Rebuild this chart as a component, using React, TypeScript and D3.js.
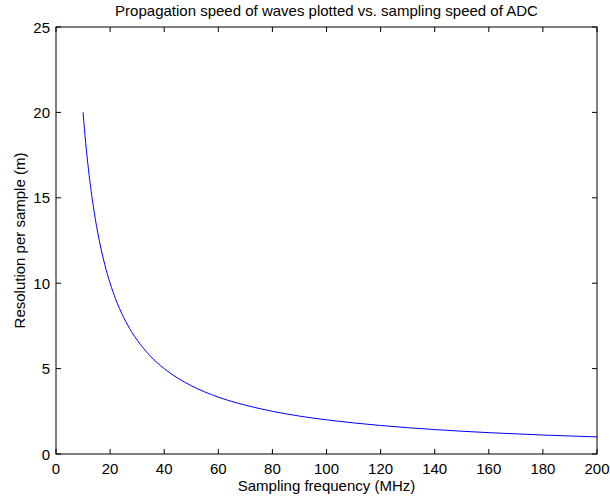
import React from "react";
import * as d3 from "d3";

const freqMHz = [10, 11, 12, 13, 14, 15, 16, 18, 20, 22, 25, 28, 30, 35, 40, 45, 50, 60, 70, 80, 90, 100, 120, 140, 160, 180, 200];
const resolution = [20, 18.18, 16.67, 15.38, 14.29, 13.33, 12.5, 11.11, 10, 9.09, 8, 7.14, 6.67, 5.71, 5, 4.44, 4, 3.33, 2.86, 2.5, 2.22, 2, 1.67, 1.43, 1.25, 1.11, 1];
const xTicks = [0, 20, 40, 60, 80, 100, 120, 140, 160, 180, 200];
const yTicks = [0, 5, 10, 15, 20, 25];

const W = 610, H = 500;
const L = 56, R = 597, T = 27, B = 454;

export default function App() {
  const x = d3.scaleLinear().domain([0, 200]).range([L, R]);
  const y = d3.scaleLinear().domain([0, 25]).range([B, T]);
  const line = d3.line<number>().x((_, i) => x(freqMHz[i])).y((d) => y(d)).curve(d3.curveMonotoneX);
  const font = "'Liberation Sans', Arial, Helvetica, sans-serif";
  const tl = 5;
  return (
    <svg width={W} height={H} style={{ position: "absolute", left: 0, top: 0 }} fontFamily={font}>
      <rect x={0} y={0} width={W} height={H} fill="#fff" />
      <path d={line(resolution) || ""} fill="none" stroke="#0000ff" strokeWidth={1} />
      <rect x={L} y={T} width={R - L} height={B - T} fill="none" stroke="#000" strokeWidth={1} />
      {xTicks.map((t) => (
        <g key={"x" + t}>
          <line x1={x(t)} x2={x(t)} y1={B} y2={B - tl} stroke="#000" />
          <line x1={x(t)} x2={x(t)} y1={T} y2={T + tl} stroke="#000" />
          <text x={x(t)} y={B + 20} textAnchor="middle" fontSize={15}>{t}</text>
        </g>
      ))}
      {yTicks.map((t) => (
        <g key={"y" + t}>
          <line x1={L} x2={L + tl} y1={y(t)} y2={y(t)} stroke="#000" />
          <line x1={R} x2={R - tl} y1={y(t)} y2={y(t)} stroke="#000" />
          <text x={L - 6} y={y(t) + 5.5} textAnchor="end" fontSize={15}>{t}</text>
        </g>
      ))}
      <text x={(L + R) / 2} y={16} textAnchor="middle" fontSize={15}>Propagation speed of waves plotted vs. sampling speed of ADC</text>
      <text x={(L + R) / 2} y={B + 37} textAnchor="middle" fontSize={15}>Sampling frequency (MHz)</text>
      <text transform={`translate(25,${(T + B) / 2}) rotate(-90)`} textAnchor="middle" fontSize={15}>Resolution per sample (m)</text>
    </svg>
  );
}
